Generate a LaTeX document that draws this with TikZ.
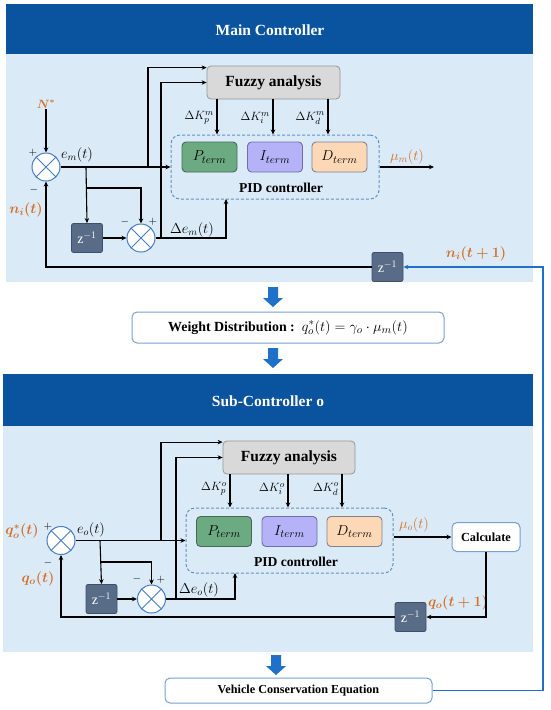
\documentclass[tikz,border=0pt]{standalone}
\usepackage{amsmath,bm}
\usepackage{fontspec}
\setmainfont{Liberation Serif}
\usetikzlibrary{arrows.meta,calc}
\definecolor{hdr}{RGB}{10,83,158}
\definecolor{panel}{RGB}{219,234,247}
\definecolor{fzfill}{RGB}{217,217,217}
\definecolor{fzdraw}{RGB}{150,150,150}
\definecolor{piddraw}{RGB}{95,145,200}
\definecolor{pfill}{RGB}{108,170,130}
\definecolor{pdraw}{RGB}{70,105,90}
\definecolor{ifill}{RGB}{182,178,248}
\definecolor{idraw}{RGB}{110,110,170}
\definecolor{dfill}{RGB}{252,216,182}
\definecolor{ddraw}{RGB}{130,130,140}
\definecolor{zfill}{RGB}{88,108,136}
\definecolor{zdraw}{RGB}{60,80,110}
\definecolor{jblue}{RGB}{70,125,195}
\definecolor{org}{RGB}{212,112,42}
\definecolor{bluel}{RGB}{30,112,200}
\definecolor{boxdraw}{RGB}{120,160,210}
\newcommand\myblockarrow[3]{\fill[bluel] (#1-5,#2) -- (#1+5,#2) -- (#1+5,#3-9) -- (#1+10,#3-9) -- (#1,#3) -- (#1-10,#3-9) -- (#1-5,#3-9) -- cycle;}
\tikzset{
  arr/.style={draw=black,line width=1.1pt,-{Stealth[length=5pt,width=4.5pt]}},
  bluearr/.style={draw=bluel,line width=1.3pt,-{Stealth[length=5pt,width=4.5pt]}},
  sumj/.style={circle,draw=jblue,fill=white,line width=1pt,minimum size=28pt,inner sep=0pt,
    path picture={\draw[jblue,line width=1pt] (path picture bounding box.north west)--(path picture bounding box.south east)
      (path picture bounding box.north east)--(path picture bounding box.south west);}},
  zbox/.style={rectangle,rounded corners=2pt,fill=zfill,draw=zdraw,line width=0.8pt,minimum width=31pt,minimum height=29pt,inner sep=0pt,text=white,font=\fontsize{14}{16}\selectfont},
  fuzzy/.style={rectangle,rounded corners=4pt,fill=fzfill,draw=fzdraw,line width=0.8pt,minimum width=133pt,minimum height=33pt,inner sep=0pt,font=\fontsize{15.5}{18}\selectfont\bfseries},
  pidbox/.style={rectangle,rounded corners=9pt,draw=piddraw,dash pattern=on 3pt off 2pt,line width=1pt,minimum width=208pt,minimum height=64pt,inner sep=0pt},
  term/.style={rectangle,rounded corners=4pt,line width=0.9pt,minimum width=55pt,minimum height=30pt,inner sep=0pt,font=\fontsize{15.5}{18}\selectfont},
  pt/.style={term,fill=pfill,draw=pdraw},
  it/.style={term,fill=ifill,draw=idraw},
  dt/.style={term,fill=dfill,draw=ddraw},
  wbox/.style={rectangle,rounded corners=5pt,fill=white,draw=boxdraw,line width=1pt,inner sep=0pt},
  hdrtext/.style={text=white,font=\fontsize{15.5}{18}\selectfont\bfseries},
  btext/.style={font=\fontsize{13.6}{16}\selectfont\bfseries},
  mlab/.style={font=\fontsize{14.5}{16}\selectfont,inner sep=0pt},
  klab/.style={font=\fontsize{13}{15}\selectfont,inner sep=0pt,anchor=east},
  olab/.style={font=\fontsize{14.5}{16}\selectfont,text=org,inner sep=0pt},
  sgn/.style={font=\fontsize{11}{12}\selectfont,inner sep=0pt},
}
\begin{document}
\begin{tikzpicture}[x=1pt,y=-1pt]
\useasboundingbox (0,0) rectangle (550,710);
\fill[white] (0,0) rectangle (550,710);
% ---------------- panels
\fill[panel] (6,54) rectangle (533,282);
\fill[hdr] (6,4) rectangle (533,54);
\node[hdrtext] (mh) at (270,30) {Main Controller};
\fill[panel] (3,426) rectangle (533,652);
\fill[hdr] (3,374) rectangle (533,426);
\node[hdrtext] (sh) at (268,401) {Sub-Controller o};

% ---------------- main controller
\node[fuzzy] (fz) at (273.5,82.5) {Fuzzy analysis};
\node[pidbox] (pid) at (275,167) {};
\node[pt] (P) at (209.5,157) {$P_{term}$};
\node[it] (I) at (275,157) {$I_{term}$};
\node[dt] (D) at (339.5,157) {$D_{term}$};
\node[btext] (pidl) at (281,188) {PID controller};
\node[sumj] (s1) at (46,167) {};
\node[sumj] (s2) at (141,238) {};
\node[zbox] (z1) at (87,238) {z$^{-1}$};
\node[zbox] (z2) at (387.5,267) {z$^{-1}$};
\node[text=org,font=\fontsize{12}{14}\selectfont,inner sep=1pt] (ns) at (46,104) {$\bm{N^{*}}$};
\node[sgn] (p1) at (33,153) {$+$};
\node[sgn] (m1) at (34,190) {$-$};
\node[mlab] (em) at (77,155) {$e_m(t)$};
\node[olab] (ni) at (26,210) {$\bm{n_i(t)}$};
\node[sgn] (m2) at (125,222) {$-$};
\node[sgn] (p2) at (153,222) {$+$};
\node[mlab] (dem) at (192,230) {$\Delta e_m(t)$};
\node[olab] (mum) at (407,157) {$\mu_m(t)$};
\node[olab] (ni1) at (476,254) {$\bm{n_i(t+1)}$};
\node[klab] (kpm) at (214,118) {$\Delta K_p^m$};
\node[klab] (kim) at (270,118) {$\Delta K_i^m$};
\node[klab] (kdm) at (325,118) {$\Delta K_d^m$};
\coordinate (kp) at (217,0);
\coordinate (ki) at (273,0);
\coordinate (kd) at (328,0);
\coordinate (b1) at (86,167);
\coordinate (b2) at (148,167);
\coordinate (b3) at (86,188);
\coordinate (c2) at (161,238);
\coordinate (pb) at (226,199);
\coordinate (mue) at (434,167);
\coordinate (br) at (543,267);

\draw[arr] (ns.south) -- (s1.north);
\draw[arr] (s1.east) -- (pid.west);
\draw[arr] (b2) |- ($(fz.north west)+(0,2)$);
\draw[arr] (c2) |- (fz.west);
\draw[arr] (b1) -- (z1.north);
\draw[arr] (b3) -| (s2.north);
\draw[arr] (z1.east) -- (s2.west);
\draw[arr] (s2.east) -| (pb);
\draw[arr] (pid.east) -- (mue);
\draw[arr] (z2.west) -| (s1.south);
\draw[arr] (fz.south -| kp) -- (pid.north -| kp);
\draw[arr] (fz.south -| ki) -- (pid.north -| ki);
\draw[arr] (fz.south -| kd) -- (pid.north -| kd);

% ---------------- middle
\myblockarrow{273}{287}{307}
\node[wbox,minimum width=312pt,minimum height=31pt] (wd) at (288,327.5) {};
\node[inner sep=0pt] (wdt) at (288,327.5) {\fontsize{13.9}{16}\selectfont\bfseries Weight Distribution :\ \ \fontsize{15.5}{18}\selectfont$q_o^*(t)=\gamma_o\cdot\mu_m(t)$};
\myblockarrow{273}{348}{368}

% ---------------- sub controller
\node[fuzzy,minimum width=132pt] (fzo) at (289,457.5) {Fuzzy analysis};
\node[pidbox,minimum width=207pt,minimum height=65pt] (pido) at (289.5,540.5) {};
\node[pt] (Po) at (224,531.5) {$P_{term}$};
\node[it] (Io) at (289.5,531.5) {$I_{term}$};
\node[dt] (Do) at (354.5,531.5) {$D_{term}$};
\node[btext] (pidlo) at (296,562) {PID controller};
\node[sumj] (s1o) at (61,540.5) {};
\node[sumj] (s2o) at (151.5,599) {};
\node[zbox] (z1o) at (101.5,599) {z$^{-1}$};
\node[zbox] (z2o) at (410.5,617) {z$^{-1}$};
\node[wbox,minimum width=68pt,minimum height=29pt] (calc) at (486,537) {\fontsize{12.3}{14}\selectfont\bfseries Calculate};
\node[olab] (qs) at (22,531) {$\bm{q_o^*(t)}$};
\node[sgn] (p1o) at (48,527) {$+$};
\node[sgn] (m1o) at (48,563) {$-$};
\node[mlab] (eo) at (91,530) {$e_o(t)$};
\node[olab] (qo) at (38,579) {$\bm{q_o(t)}$};
\node[sgn] (m2o) at (137,579) {$-$};
\node[sgn] (p2o) at (161,580) {$+$};
\node[mlab] (deo) at (199,590) {$\Delta e_o(t)$};
\node[olab] (muo) at (414,525) {$\mu_o(t)$};
\node[olab] (qo1) at (458,603) {$\bm{q_o(t+1)}$};
\node[klab] (kpo) at (227,489) {$\Delta K_p^o$};
\node[klab] (kio) at (285,489) {$\Delta K_i^o$};
\node[klab] (kdo) at (339,489) {$\Delta K_d^o$};
\coordinate (kpO) at (230,0);
\coordinate (kiO) at (288,0);
\coordinate (kdO) at (342,0);
\coordinate (b1o) at (100,540.5);
\coordinate (b2o) at (161,540.5);
\coordinate (b3o) at (100,562);
\coordinate (c2o) at (176,599);
\coordinate (pbo) at (235,573);

\draw[arr] (s1o.east) -- (pido.west);
\draw[arr] (b2o) |- ($(fzo.north west)+(0,1.5)$);
\draw[arr] (c2o) |- (fzo.west);
\draw[arr] (b1o) -- (z1o.north);
\draw[arr] (b3o) -| (s2o.north);
\draw[arr] (z1o.east) -- (s2o.west);
\draw[arr] (s2o.east) -| (pbo);
\draw[arr] (pido.east |- calc.west) -- (calc.west);
\draw[arr] (calc.south) |- (z2o.east);
\draw[arr] (z2o.west) -| (s1o.south);
\draw[arr] (fzo.south -| kpO) -- (pido.north -| kpO);
\draw[arr] (fzo.south -| kiO) -- (pido.north -| kiO);
\draw[arr] (fzo.south -| kdO) -- (pido.north -| kdO);

% ---------------- bottom
\myblockarrow{276}{655}{675}
\node[wbox,minimum width=267pt,minimum height=25pt] (veh) at (298.5,690.5) {\fontsize{12.2}{14}\selectfont\bfseries Vehicle Conservation Equation};
\draw[bluearr] (veh.east) -| (br) -- (z2.east);
\end{tikzpicture}
\end{document}
